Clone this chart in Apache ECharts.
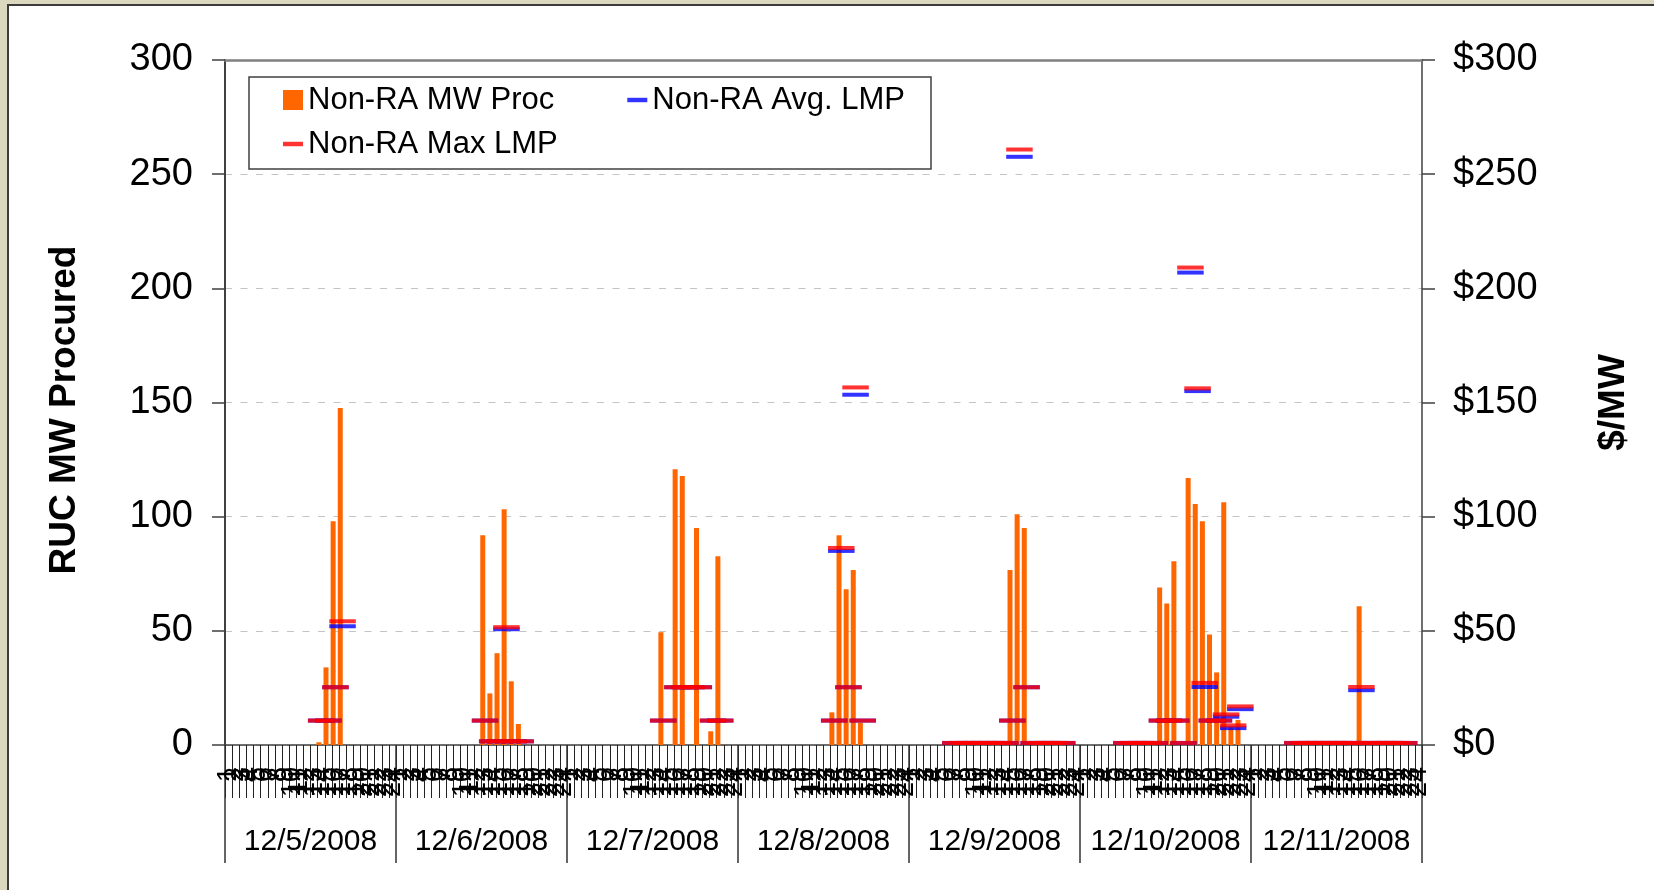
<!DOCTYPE html>
<html>
<head>
<meta charset="utf-8">
<title>Non-RA RUC procurement</title>
<script src="https://cdn.jsdelivr.net/npm/echarts@6/dist/echarts.min.js"></script>
<style>
html, body { margin: 0; padding: 0; background: #dcd8c0; overflow: hidden; }
#frame { position: absolute; left: 7px; top: 4px; width: 1647px; height: 886px; background: #fff; border-left: 2px solid #3c3c3c; border-top: 2px solid #3c3c3c; box-sizing: border-box; }
#chart { position: absolute; left: 0; top: 0; width: 1654px; height: 890px; }
</style>
</head>
<body>
<div id="frame"></div>
<div id="chart"></div>
<script>
const dates = ['12/5/2008', '12/6/2008', '12/7/2008', '12/8/2008', '12/9/2008', '12/10/2008', '12/11/2008'];
const hours = ['1', '2', '3', '4', '5', '6', '7', '8', '9', '10', '11', '12',
	'13', '14', '15', '16', '17', '18', '19', '20', '21', '22', '23', '24'];

// [day index, hour ending, MW]
const mwProc = [
	[0, 14, 1.2], [0, 15, 34.0], [0, 16, 98.0], [0, 17, 147.6],
	[1, 13, 91.9], [1, 14, 22.6], [1, 15, 40.2], [1, 16, 103.3], [1, 17, 27.9], [1, 18, 9.2],
	[2, 14, 49.4], [2, 16, 120.8], [2, 17, 117.8], [2, 19, 95.0], [2, 21, 6.0], [2, 22, 82.7],
	[3, 14, 14.3], [3, 15, 91.9], [3, 16, 68.2], [3, 17, 76.6], [3, 18, 9.8],
	[4, 15, 76.6], [4, 16, 101.1], [4, 17, 95.0],
	[5, 12, 69.0], [5, 13, 62.0], [5, 14, 80.5], [5, 16, 116.9], [5, 17, 105.5], [5, 18, 98.0],
	[5, 19, 48.4], [5, 20, 31.8], [5, 21, 106.3], [5, 22, 8.0], [5, 23, 11.0],
	[6, 16, 60.8],
];

// [day index, hour ending, $/MW]
const maxLmp = [
	[0, 14, 10.7], [0, 15, 10.7], [0, 16, 25.3], [0, 17, 54.2],
	[1, 13, 10.7], [1, 14, 1.6], [1, 15, 1.6], [1, 16, 51.6], [1, 17, 1.6], [1, 18, 1.6],
	[2, 14, 10.7], [2, 16, 25.3], [2, 17, 25.3], [2, 18, 25.3], [2, 19, 25.3], [2, 21, 10.7], [2, 22, 10.7],
	[3, 14, 10.7], [3, 15, 86.3], [3, 16, 25.3], [3, 17, 156.6], [3, 18, 10.7],
	[4, 7, 0.9], [4, 8, 0.9], [4, 9, 0.9], [4, 10, 0.9], [4, 11, 0.9], [4, 12, 0.9], [4, 13, 0.9], [4, 14, 0.9],
	[4, 15, 10.7], [4, 16, 260.8], [4, 17, 25.3],
	[4, 18, 0.9], [4, 19, 0.9], [4, 20, 0.9], [4, 21, 0.9], [4, 22, 0.9],
	[5, 7, 0.9], [5, 8, 0.9], [5, 9, 0.9], [5, 10, 0.9], [5, 11, 0.9],
	[5, 12, 10.7], [5, 13, 10.7], [5, 14, 10.7], [5, 15, 0.9], [5, 16, 209.1], [5, 17, 156.2], [5, 18, 27.2],
	[5, 19, 10.7], [5, 20, 10.7], [5, 21, 13.4], [5, 22, 8.6], [5, 23, 16.9],
	[6, 7, 0.9], [6, 8, 0.9], [6, 9, 0.9], [6, 10, 0.9], [6, 11, 0.9], [6, 12, 0.9], [6, 13, 0.9], [6, 14, 0.9],
	[6, 15, 0.9], [6, 16, 25.4], [6, 17, 0.9], [6, 18, 0.9], [6, 19, 0.9], [6, 20, 0.9], [6, 21, 0.9], [6, 22, 0.9],
];

const avgLmp = [
	[0, 14, 10.7], [0, 15, 10.7], [0, 16, 25.3], [0, 17, 52.0],
	[1, 13, 10.7], [1, 14, 1.6], [1, 15, 1.6], [1, 16, 50.7], [1, 17, 1.6], [1, 18, 1.6],
	[2, 14, 10.7], [2, 16, 25.3], [2, 17, 25.3], [2, 18, 25.3], [2, 19, 25.3], [2, 21, 10.7], [2, 22, 10.7],
	[3, 14, 10.7], [3, 15, 85.0], [3, 16, 25.3], [3, 17, 153.4], [3, 18, 10.7],
	[4, 7, 0.9], [4, 8, 0.9], [4, 9, 0.9], [4, 10, 0.9], [4, 11, 0.9], [4, 12, 0.9], [4, 13, 0.9], [4, 14, 0.9],
	[4, 15, 10.7], [4, 16, 257.6], [4, 17, 25.3],
	[4, 18, 0.9], [4, 19, 0.9], [4, 20, 0.9], [4, 21, 0.9], [4, 22, 0.9],
	[5, 7, 0.9], [5, 8, 0.9], [5, 9, 0.9], [5, 10, 0.9], [5, 11, 0.9],
	[5, 12, 10.7], [5, 13, 10.7], [5, 14, 10.7], [5, 15, 0.9], [5, 16, 206.9], [5, 17, 155.0], [5, 18, 25.4],
	[5, 19, 10.7], [5, 20, 10.7], [5, 21, 12.4], [5, 22, 7.4], [5, 23, 15.7],
	[6, 7, 0.9], [6, 8, 0.9], [6, 9, 0.9], [6, 10, 0.9], [6, 11, 0.9], [6, 12, 0.9], [6, 13, 0.9], [6, 14, 0.9],
	[6, 15, 0.9], [6, 16, 24.0], [6, 17, 0.9], [6, 18, 0.9], [6, 19, 0.9], [6, 20, 0.9], [6, 21, 0.9], [6, 22, 0.9],
];

const categories = [];
dates.forEach(() => {
	hours.forEach((h) => categories.push(h));
});

function toSeries(list) {
	const out = categories.map(() => '-');
	list.forEach(([day, hour, v]) => {
		out[day * hours.length + hour - 1] = v;
	});
	return out;
}

const dash = 'path://M0,0h18v4h-18z';
const font = 'Liberation Sans, Arial, sans-serif';

const chart = echarts.init(document.getElementById('chart'), null, { renderer: 'canvas' });
chart.setOption({
	animation: false,
	backgroundColor: 'transparent',
	textStyle: { fontFamily: font, color: '#000' },
	grid: {
		left: 225,
		right: 232,
		top: 60,
		bottom: 145,
		outerBoundsMode: 'none',
	},
	legend: [{
		data: [{ name: 'Non-RA MW Proc', icon: 'rect' }, { name: 'Non-RA Avg. LMP', icon: dash }],
		left: 249,
		top: 77,
		padding: [7, 26, 53, 34],
		itemWidth: 20,
		itemHeight: 20,
		itemGap: 73,
		backgroundColor: '#fff',
		borderColor: '#404040',
		borderWidth: 1.5,
		textStyle: { fontSize: 31, lineHeight: 32, color: '#000', fontFamily: font },
	}, {
		data: [{ name: 'Non-RA Max LMP', icon: dash }],
		left: 283,
		top: 128,
		padding: 0,
		z: 6,
		itemWidth: 20,
		itemHeight: 20,
		textStyle: { fontSize: 31, lineHeight: 32, color: '#000', fontFamily: font },
	}],
	xAxis: [{
		type: 'category',
		data: categories,
		position: 'bottom',
		boundaryGap: true,
		axisLine: { lineStyle: { color: '#404040', width: 1.5 } },
		axisTick: { show: true, interval: 0, length: 53, lineStyle: { color: '#222', width: 1 } },
		axisLabel: { interval: 0, rotate: 90, fontSize: 27, margin: 22, color: '#000', fontFamily: font },
		splitLine: { show: false },
	}, {
		type: 'category',
		data: dates,
		position: 'bottom',
		offset: 0,
		boundaryGap: true,
		axisLine: { show: false },
		axisTick: { show: true, interval: 0, length: 118, lineStyle: { color: '#333', width: 1.5 } },
		axisLabel: { interval: 0, fontSize: 30, margin: 82, color: '#000', fontFamily: font },
		splitLine: { show: false },
	}, {
		// plot-area top border
		type: 'category',
		data: dates,
		position: 'top',
		axisLine: { show: true, lineStyle: { color: '#808080', width: 2.5 } },
		axisTick: { show: false },
		axisLabel: { show: false },
		splitLine: { show: false },
	}],
	yAxis: [{
		type: 'value',
		min: 0,
		max: 300,
		interval: 50,
		position: 'left',
		name: 'RUC MW Procured',
		nameLocation: 'middle',
		nameRotate: 90,
		nameGap: 142,
		nameTextStyle: { fontSize: 37, fontWeight: 'bold', color: '#000', fontFamily: font, padding: [0, 15, 0, 0] },
		axisLine: { show: true, lineStyle: { color: '#404040', width: 2 } },
		axisTick: { show: true, length: 13, lineStyle: { color: '#404040', width: 1.5 } },
		axisLabel: { fontSize: 38, margin: 32, color: '#000', fontFamily: font },
		splitLine: { show: true, lineStyle: { color: '#c4c4c4', width: 1, type: [7, 8.5] } },
	}, {
		type: 'value',
		min: 0,
		max: 300,
		interval: 50,
		position: 'right',
		name: '$/MW',
		nameLocation: 'middle',
		nameRotate: 90,
		nameGap: 173,
		nameTextStyle: { fontSize: 37, fontWeight: 'bold', color: '#000', fontFamily: font },
		axisLine: { show: true, lineStyle: { color: '#404040', width: 1.5 } },
		axisTick: { show: true, length: 13, lineStyle: { color: '#404040', width: 1.5 } },
		axisLabel: { fontSize: 38, margin: 31, color: '#000', fontFamily: font, formatter: '${value}' },
		splitLine: { show: false },
	}],
	series: [{
		name: 'Non-RA MW Proc',
		type: 'bar',
		xAxisIndex: 0,
		yAxisIndex: 0,
		barWidth: 5,
		barGap: '-8%',
		itemStyle: { color: '#ff6600' },
		data: toSeries(mwProc),
	}, {
		// empty companion bar: shifts the MW bars slightly left of the hour centre
		name: 'spacer',
		type: 'bar',
		xAxisIndex: 0,
		yAxisIndex: 0,
		barWidth: 5,
		data: categories.map(() => '-'),
	}, {
		name: 'Non-RA Avg. LMP',
		type: 'scatter',
		xAxisIndex: 0,
		yAxisIndex: 1,
		symbol: 'rect',
		symbolSize: [26.5, 4],
		itemStyle: { color: '#0000ff' },
		data: toSeries(avgLmp),
	}, {
		name: 'Non-RA Max LMP',
		type: 'scatter',
		xAxisIndex: 0,
		yAxisIndex: 1,
		symbol: 'rect',
		symbolSize: [26.5, 4],
		itemStyle: { color: '#ff0000' },
		data: toSeries(maxLmp),
	}],
});
</script>
</body>
</html>
